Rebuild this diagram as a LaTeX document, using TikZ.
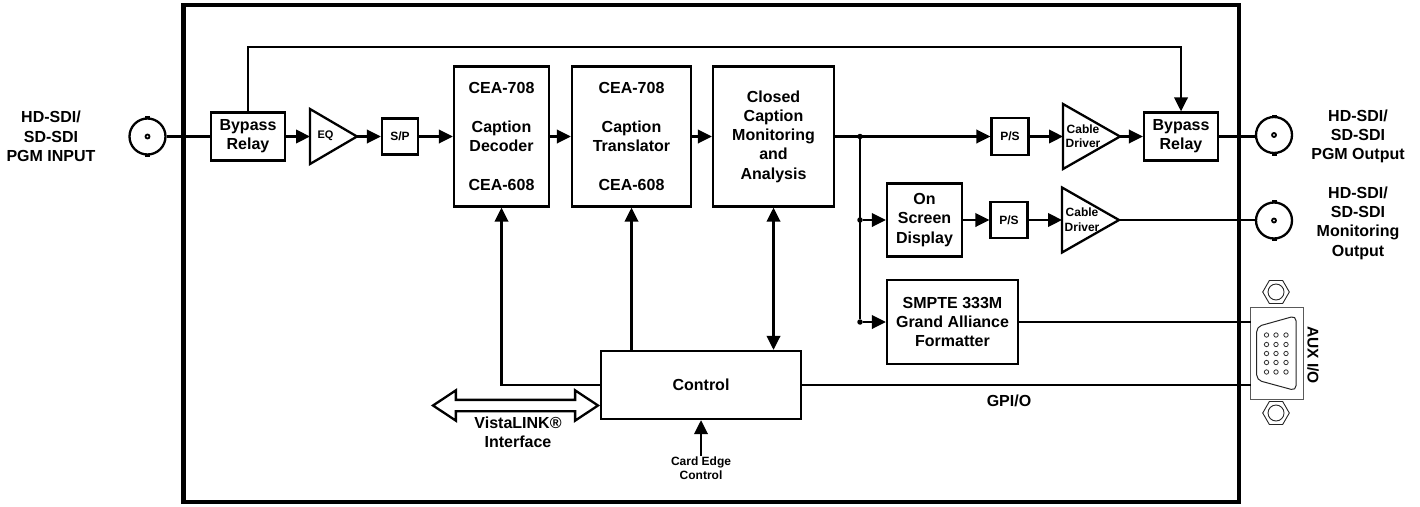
\documentclass[tikz,border=0pt]{standalone}
\usepackage{fontspec}
\setmainfont{Liberation Sans}
\usetikzlibrary{arrows.meta,positioning,shapes.geometric,shapes.arrows}

\newcommand{\bigfont}{\fontsize{16}{19.3}\selectfont\bfseries}
\newcommand{\tinyfont}{\fontsize{12}{14.5}\selectfont\bfseries}

\begin{document}
\begin{tikzpicture}
			[x=1pt,y=-1pt,font=\bigfont,
			blockbox/.style={shape=rectangle,draw,line width=2.3pt,align=center,inner sep=0pt},
			smallbox/.style={blockbox,font=\tinyfont,minimum width=37pt,minimum height=36.5pt},
			relaybox/.style={blockbox,minimum width=74pt,minimum height=48pt},
			ampbox/.style={shape=isosceles triangle,isosceles triangle stretches,draw,line width=2.3pt,inner sep=0pt,outer sep=0pt,anchor=apex},
			label/.style={align=center,inner sep=0pt},
			smalllabel/.style={label,font=\tinyfont},
			junction/.style={shape=circle,fill=black,minimum size=5.5pt,inner sep=0pt},
			arc/.style={-{Triangle[length=14pt,width=13.5pt]},line width=2.3pt},
			dblarc/.style={{Triangle[length=14pt,width=13.5pt]}-{Triangle[length=14pt,width=13.5pt]},line width=2.3pt},
			wire/.style={line width=2.3pt},
			bnctab/.style={shape=rectangle,fill=black,minimum width=5pt,minimum height=5pt,inner sep=0pt},
			bncbody/.style={shape=circle,draw,fill=white,line width=2.3pt,minimum size=36pt,inner sep=0pt},
			bncpin/.style={shape=circle,draw,fill=white,line width=1.8pt,minimum size=4pt,inner sep=0pt},
			dsub/.style={draw=black!65,line width=1pt},
			dpin/.style={shape=circle,draw=black!80,line width=.8pt,minimum size=4.4pt,inner sep=0pt},
			nutshape/.style={shape=regular polygon,regular polygon sides=6,draw=black!85,line width=.9pt,minimum size=26.6pt,inner sep=0pt},
			nuthole/.style={shape=circle,draw=black!85,line width=.9pt,minimum size=16pt,inner sep=0pt}]
			\useasboundingbox (0,0) rectangle (1420,506);
			
			\node (frame) [draw,line width=4.5pt,minimum width=1055.5pt,minimum height=497pt,inner sep=0pt] at (711.25,253.5) {};
			
			% connectors on the card edge
			\foreach \name/\posx/\posy in {bncin/147.5/136.5,bncpgm/1274/135,bncmon/1274/220.5}{
				\node (\name top) [bnctab] at (\posx,\posy-18) {};
				\node (\name bot) [bnctab] at (\posx,\posy+18) {};
				\node (\name) [bncbody] at (\posx,\posy) {};
				\node (\name pin) [bncpin] at (\posx,\posy) {};
			}
			
			\node (relayin) [relaybox] at (248,136.5) {Bypass\\Relay};
			\node (eq) [ampbox,minimum width=55pt,minimum height=47pt] at (357,136.5) {};
			\node (eqtext) [label,font=\fontsize{11}{13}\selectfont\bfseries] at (325.5,136) {EQ};
			\node (sp) [smallbox,minimum width=36pt,minimum height=36pt] at (400,136.5) {S/P};
			
			\node (decoder) [blockbox,minimum width=95pt,minimum height=140pt] at (501.5,136.5) {CEA-708\\~\\Caption\\Decoder\\~\\CEA-608};
			\node (translator) [blockbox,minimum width=119pt,minimum height=140pt] at (631.5,136.5) {CEA-708\\~\\Caption\\Translator\\~\\CEA-608};
			\node (closed) [blockbox,minimum width=121pt,minimum height=140pt] at (773.5,136.5) {Closed\\Caption\\Monitoring\\and\\Analysis};
			
			\node (psa) [smallbox] at (1010,136.5) {P/S};
			\node (ampa) [ampbox,minimum width=65pt,minimum height=57pt] at (1120,136.5) {};
			\node (ampatext) [smalllabel] at (1083,136) {Cable\\Driver};
			\node (relayout) [relaybox] at (1181,136.5) {Bypass\\Relay};
			
			\node (osd) [blockbox,minimum width=75pt,minimum height=73pt] at (924.5,220) {On\\Screen\\Display};
			\node (psb) [smallbox] at (1009,220) {P/S};
			\node (ampb) [ampbox,minimum width=65pt,minimum height=57pt] at (1119,220) {};
			\node (ampbtext) [smalllabel] at (1082,219.5) {Cable\\Driver};
			
			\node (smpte) [blockbox,minimum width=131pt,minimum height=84pt] at (952.5,322) {SMPTE 333M\\Grand Alliance\\Formatter};
			\node (control) [blockbox,minimum width=200pt,minimum height=68pt] at (701,385) {Control};
			
			\node (jtop) [junction] at (860,136.5) {};
			\node (jmid) [junction] at (860,220) {};
			\node (jbot) [junction] at (860,322) {};
			
			\node (vista) [shape=double arrow,draw,line width=2.3pt,double arrow head extend=9.5pt,double arrow tip angle=67,double arrow head indent=0pt,minimum height=165pt,minimum width=28pt,inner xsep=0pt,inner ysep=4.5pt] at (515.5,405.5) {};
			\node (vistatext) [label] at (518,432.5) {VistaLINK®\\Interface};
			\node (cardedge) [smalllabel] at (701,468) {Card Edge\\Control};
			
			% aux connector
			\node (dshell) [dsub,minimum width=53pt,minimum height=92pt,inner sep=0pt] at (1276.5,353) {};
			\draw [line width=1pt,rounded corners=5pt,black!85] (1256.7,326.7) -- (1296,315.7) -- (1296,390.7) -- (1256.7,380) -- cycle;
			\foreach \posx in {1266.5,1276,1286}
				\foreach \posy in {335,344.5,353.5,362.5,372}
					\node [dpin] at (\posx,\posy) {};
			\node (nuta) [nutshape] at (1276,292) {};
			\node (nutahole) [nuthole] at (1276,292) {};
			\node (nutb) [nutshape] at (1276,413) {};
			\node (nutbhole) [nuthole] at (1276,413) {};
			\coordinate (auxtop) at (1251,322);
			\coordinate (auxbot) at (1251,385);
			\coordinate (bypasstop) at (1181,47);
			
			\node (auxtext) [label,rotate=-90,font=\fontsize{15.5}{18}\selectfont\bfseries] at (1313,355) {AUX I/O};
			\node (gpio) [label] at (1009,401) {GPI/O};
			\node (inlabel) [label] at (51,136.5) {HD-SDI/\\SD-SDI\\PGM INPUT};
			\node (pgmlabel) [label] at (1358,136.5) {HD-SDI/\\SD-SDI\\PGM Output};
			\node (monlabel) [label] at (1358,223) {HD-SDI/\\SD-SDI\\Monitoring\\Output};
			
			\draw [wire] (bncin) to (relayin);
			\draw [arc] (relayin.east) to (eq.lower side);
			\draw [arc] (eq.apex) to (sp.west);
			\draw [arc] (sp.east) to (decoder.west);
			\draw [arc] (decoder.east) to (translator.west);
			\draw [arc] (translator.east) to (closed.west);
			\draw [arc] (closed.east) to (psa.west);
			\draw [arc] (psa.east) to (ampa.lower side);
			\draw [arc] (ampa.apex) to (relayout.west);
			\draw [wire] (relayout.east) to (relayout.east -| bncpgm.west);
			\draw [arc] (relayin.north) |- (bypasstop) -- (relayout.north);
			
			\draw [wire] (jtop) to (jbot);
			\draw [arc] (jmid) to (osd.west);
			\draw [arc] (jbot) to (smpte.west);
			\draw [arc] (osd.east) to (psb.west);
			\draw [arc] (psb.east) to (ampb.lower side);
			\draw [wire] (ampb.apex) to (ampb.apex -| bncmon.west);
			\draw [wire] (smpte.east) to (auxtop);
			\draw [wire] (control.east) to (auxbot);
			
			\draw [arc] (control.west) -| (decoder.south);
			\draw [arc] (translator.south |- control.north) to (translator.south);
			\draw [dblarc] (closed.south) to (closed.south |- control.north);
			\draw [arc] (cardedge.north) to (control.south);
\end{tikzpicture}
\end{document}
